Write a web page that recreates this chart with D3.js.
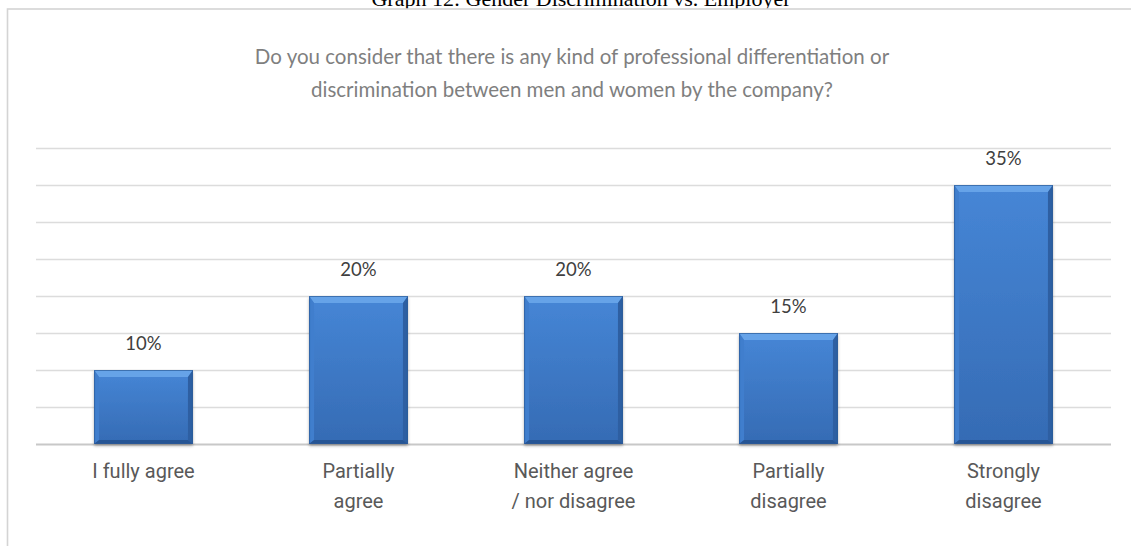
<!DOCTYPE html>
<html>
<head>
<meta charset="utf-8">
<script src="https://cdn.jsdelivr.net/npm/d3@7"></script>
<style>
  html, body { margin: 0; padding: 0; background: #ffffff; }
  svg { display: block; }
</style>
</head>
<body>
<svg id="chart" width="1131" height="546"></svg>
<script>
// Survey answers and share of respondents (%)
const categories = [
  ["I fully agree"],
  ["Partially", "agree"],
  ["Neither agree", "/ nor disagree"],
  ["Partially", "disagree"],
  ["Strongly", "disagree"]
];
const values = [10, 20, 20, 15, 35];
const gridTicks = [0, 5, 10, 15, 20, 25, 30, 35, 40];
const caption = "Graph 12: Gender Discrimination vs. Employer";
const titleLines = [
  "Do you consider that there is any kind of professional differentiation or",
  "discrimination between men and women by the company?"
];

const W = 1131, H = 546;
const plot = { left: 36, right: 1111, top: 148, bottom: 444 };

const svg = d3.select("#chart");

// Blue face gradient for the bars
const defs = svg.append("defs");
const face = defs.append("linearGradient")
  .attr("id", "barFace").attr("x1", 0).attr("y1", 0).attr("x2", 0).attr("y2", 1);
face.append("stop").attr("offset", 0).attr("stop-color", "#4686d6");
face.append("stop").attr("offset", 1).attr("stop-color", "#356bb4");
const shadow = defs.append("filter").attr("id", "barShadow")
  .attr("x", "-10%").attr("y", "-10%").attr("width", "120%").attr("height", "125%");
shadow.append("feDropShadow").attr("dx", 0).attr("dy", 2).attr("stdDeviation", 1.6)
  .attr("flood-color", "#000").attr("flood-opacity", 0.3);

// Document caption above the chart frame (its upper part runs off the page)
svg.append("text")
  .attr("x", 581).attr("y", 6)
  .attr("text-anchor", "middle")
  .attr("font-family", "'Liberation Serif', 'Times New Roman', serif")
  .attr("font-size", 22)
  .attr("fill", "#000")
  .text(caption);

// Chart frame
svg.append("rect")
  .attr("x", 7.5).attr("y", 9).attr("width", W + 20).attr("height", H + 20)
  .attr("fill", "#ffffff")
  .attr("stroke", "#d4d4d4").attr("stroke-width", 1.6);

// Title
svg.append("g").selectAll("text")
  .data(titleLines).join("text")
  .attr("x", 572).attr("y", (d, i) => 64 + i * 33)
  .attr("text-anchor", "middle")
  .attr("font-family", "Lato, 'Open Sans', sans-serif")
  .attr("font-size", 20.5)
  .attr("fill", "#7f7f7f")
  .text(d => d);

const x = d3.scaleBand()
  .domain(d3.range(categories.length))
  .range([plot.left, plot.right])
  .paddingInner(0.54).paddingOuter(0.27);

const y = d3.scaleLinear().domain([0, 40]).range([plot.bottom, plot.top]);

// Horizontal gridlines
svg.append("g")
  .attr("transform", `translate(${plot.left},0)`)
  .call(d3.axisLeft(y).tickValues(gridTicks).tickSize(-(plot.right - plot.left)).tickFormat(""))
  .call(g => g.select(".domain").remove())
  .call(g => g.selectAll(".tick line")
    .attr("stroke", d => d === 0 ? "#c8c8c8" : "#dcdcdc")
    .attr("stroke-width", d => d === 0 ? 2 : 1.3));

// Bars with bevelled edges
const bars = svg.append("g").selectAll("g.bar")
  .data(values).join("g").attr("class", "bar")
  .attr("filter", "url(#barShadow)");

bars.each(function(v, i) {
  const g = d3.select(this);
  const x0 = x(i), x1 = x(i) + x.bandwidth();
  const y0 = y(v), y1 = y(0);
  const bt = 7, bs = 5, bb = 4;
  g.append("rect")
    .attr("x", x0).attr("y", y0)
    .attr("width", x1 - x0).attr("height", y1 - y0)
    .attr("fill", "url(#barFace)");
  const poly = (pts, fill) => g.append("polygon")
    .attr("points", pts.map(p => p.join(",")).join(" "))
    .attr("fill", fill);
  // top edge highlight
  poly([[x0, y0], [x1, y0], [x1 - bs, y0 + bt], [x0 + bs, y0 + bt]], "#66a3e8");
  // left edge
  poly([[x0, y0], [x0 + bs, y0 + bt], [x0 + bs, y1 - bb], [x0, y1]], "#407ecd");
  // right edge
  poly([[x1, y0], [x1, y1], [x1 - bs, y1 - bb], [x1 - bs, y0 + bt]], "#2d5fa2");
  // bottom edge
  poly([[x0, y1], [x0 + bs, y1 - bb], [x1 - bs, y1 - bb], [x1, y1]], "#285594");
  g.append("rect")
    .attr("x", x0 + 0.5).attr("y", y0 + 0.5)
    .attr("width", x1 - x0 - 1).attr("height", y1 - y0 - 1)
    .attr("fill", "none").attr("stroke", "#2d5b99").attr("stroke-width", 1).attr("stroke-opacity", 0.7);
});

// Value labels
svg.append("g").selectAll("text")
  .data(values).join("text")
  .attr("x", (d, i) => x(i) + x.bandwidth() / 2)
  .attr("y", d => y(d) - 20)
  .attr("text-anchor", "middle")
  .attr("font-family", "Lato, 'Open Sans', sans-serif")
  .attr("font-size", 18.5)
  .attr("fill", "#404040")
  .text(d => d + "%");

// Category labels
const cat = svg.append("g").selectAll("text")
  .data(categories).join("text")
  .attr("x", (d, i) => x(i) + x.bandwidth() / 2)
  .attr("y", 478)
  .attr("text-anchor", "middle")
  .attr("font-family", "Roboto, 'Noto Sans', sans-serif")
  .attr("font-size", 20)
  .attr("fill", "#595959");
cat.selectAll("tspan")
  .data(d => d).join("tspan")
  .attr("x", function() { return d3.select(this.parentNode).attr("x"); })
  .attr("dy", (d, j) => j === 0 ? 0 : 30)
  .text(d => d);
</script>
</body>
</html>
